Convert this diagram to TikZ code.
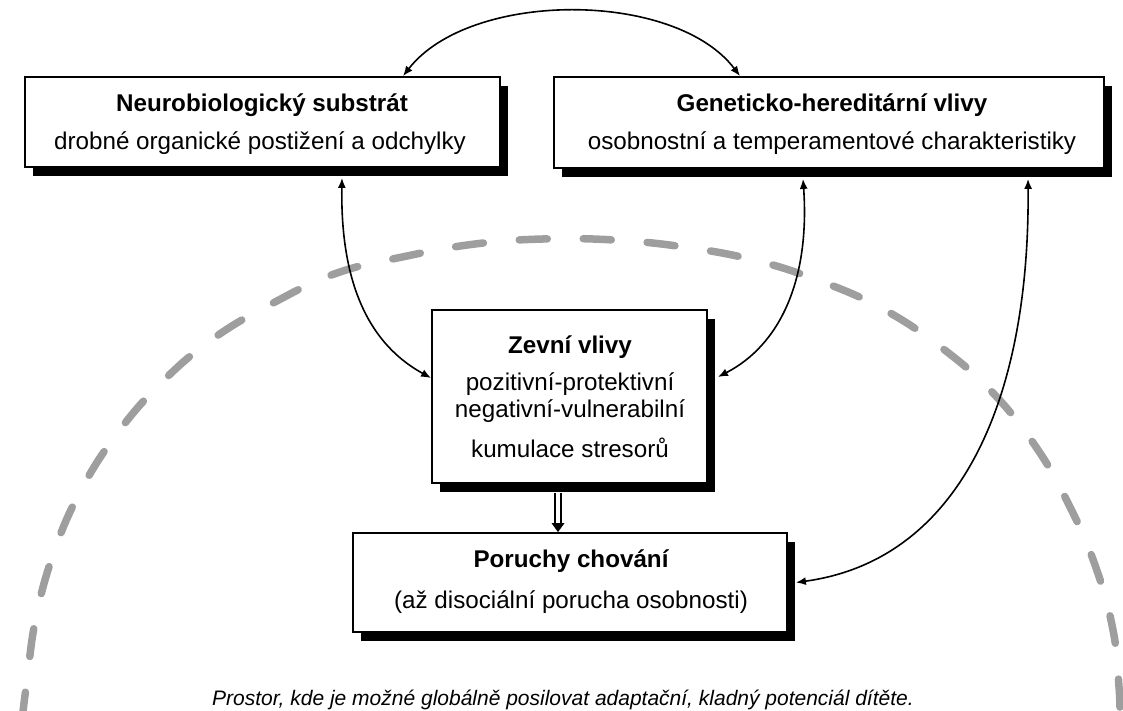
\documentclass[tikz,border=0pt]{standalone}
\usepackage{fontspec}
\setmainfont{Liberation Sans}
\usetikzlibrary{arrows.meta,shadows,calc}
\definecolor{dashgray}{RGB}{158,158,158}
\tikzset{
  boxnode/.style={draw=black, line width=1.8pt, fill=white, inner sep=0pt,
    drop shadow={shadow xshift=8pt, shadow yshift=-9pt, fill=black, opacity=1}},
  titletext/.style={anchor=base, font=\bfseries\fontsize{24.2}{28}\selectfont},
  subtext/.style={anchor=base, font=\fontsize{24.2}{28}\selectfont},
  captext/.style={anchor=base, font=\itshape\fontsize{21}{24}\selectfont},
  conn/.style={line width=1.6pt, {Latex[length=10pt,width=8pt]}-{Latex[length=10pt,width=8pt]}},
  arch/.style={dashgray, line width=7.5pt, line cap=round, dash pattern=on 28pt off 36pt}
}
\begin{document}
\begin{tikzpicture}[x=1pt,y=-1pt]
\useasboundingbox (0,0) rectangle (1123,711);
% dashed space arch
\draw[arch] plot[smooth, tension=0.7] coordinates {(22,720) (27,680) (36,617) (54,552) (80,492) (116,435) (161,383) (214,338) (275,302) (337,273) (407,256) (475,244) (543,239) (614,240) (684,247) (754,260) (820,281) (883,309) (942,348) (993,393) (1036,447) (1068,503) (1095,565) (1113,630) (1119,687) (1120,720)};
% boxes
\node[boxnode, minimum width=475pt, minimum height=90pt] (b1) at (262.5,122) {};
\node[boxnode, minimum width=550pt, minimum height=91pt] (b2) at (829,122.5) {};
\node[boxnode, minimum width=275pt, minimum height=173pt] (b3) at (569.5,396.5) {};
\node[boxnode, minimum width=434pt, minimum height=99pt] (b4) at (570,582.5) {};
% texts
\node[titletext] (t1) at (262,112) {Neurobiologický substrát};
\node[subtext] (s1) at (260,150) {drobné organické postižení a odchylky};
\node[titletext] (t2) at (832,112) {Geneticko-hereditární vlivy};
\node[subtext] (s2) at (832,150) {osobnostní a temperamentové charakteristiky};
\node[titletext] (t3) at (570,353) {Zevní vlivy};
\node[subtext] (s3a) at (570,390) {pozitivní-protektivní};
\node[subtext] (s3b) at (570,417) {negativní-vulnerabilní};
\node[subtext] (s3c) at (570,457) {kumulace stresorů};
\node[titletext] (t4) at (571,567) {Poruchy chování};
\node[subtext] (s4) at (571,608) {(až disociální porucha osobnosti)};
\node[captext] (cap) at (563,705) {Prostor, kde je možné globálně posilovat adaptační, kladný potenciál dítěte.};
% connector end points on the boxes
\coordinate (b1top) at ([xshift=140.5pt]b1.north);
\coordinate (b2top) at ([xshift=-89pt]b2.north);
\coordinate (b1bot) at ([xshift=79.5pt,yshift=-10pt]b1.south);
\coordinate (b2botA) at ([xshift=-26pt,yshift=-10pt]b2.south);
\coordinate (b2botB) at ([xshift=199pt,yshift=-10pt]b2.south);
\coordinate (b3left) at ([yshift=18.5pt]b3.west);
\coordinate (b3right) at ([xshift=10pt,yshift=19.5pt]b3.east);
\coordinate (b3bot) at ([xshift=-11.5pt,yshift=-9pt]b3.south);
\coordinate (b4top) at ([xshift=-12pt]b4.north);
\coordinate (b4right) at ([xshift=8pt]b4.east);
% connectors
\draw[conn] (b1top) .. controls (470,-10) and (675,-10) .. (b2top);
\draw[conn] (b1bot) .. controls (340,300) and (380,350) .. (b3left);
\draw[conn] (b2botA) .. controls (810,280) and (780,345) .. (b3right);
\draw[conn] (b2botB) .. controls (1030,400) and (960,560) .. (b4right);
\draw[line width=1.4pt, double=white, double distance=4.5pt, shorten >=6pt] (b3bot) -- (b4top);
\fill (b4top) -- ++(-6.5,-9) -- ++(13,0) -- cycle;
\end{tikzpicture}
\end{document}
